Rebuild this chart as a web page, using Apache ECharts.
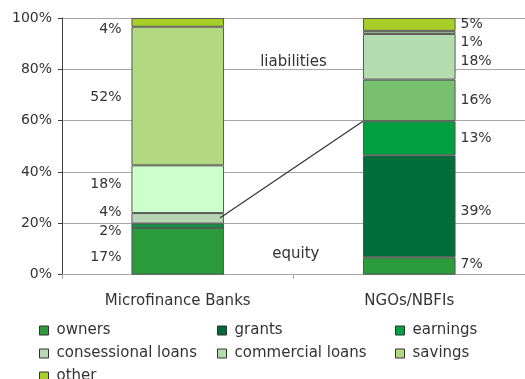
<!DOCTYPE html>
<html>
<head>
<meta charset="utf-8">
<script src="https://cdn.jsdelivr.net/npm/echarts@6/dist/echarts.min.js"></script>
<style>
html,body{margin:0;padding:0;background:#fff;}
#chart{width:525px;height:379px;}
</style>
</head>
<body>
<div id="chart"></div>
<script>
// ---- data ----
const categories = ['Microfinance Banks', 'NGOs/NBFIs'];
const seriesNames = ['owners', 'grants', 'earnings', 'consessional loans', 'commercial loans', 'savings', 'other'];
// share of funding (%) as drawn, bottom to top, per category
const banksValues = [18.3, 0, 1.6, 4.1, 18.6, 54.0, 3.4];
const ngoValues   = [6.8, 39.7, 13.3, 16.2, 17.8, 1.2, 5.0];
// printed labels
const banksLabels = ['17%', '', '2%', '4%', '18%', '52%', '4%'];
const ngoLabels   = ['7%', '39%', '13%', '16%', '18%', '1%', '5%'];
const yTicks = [0, 20, 40, 60, 80, 100];
// equity / liabilities divider (x on 0..2 category scale, y in %)
const dividerLine = [[0.682, 22.1], [1.30, 59.8]];
const annotations = [
  { name: 'liabilities', x: 1.0, y: 83.0 },
  { name: 'equity', x: 1.01, y: 8.1 }
];

// ---- styles ----
const FONT = 'DejaVu Sans';
const legendColors = ['#2e9a3a', '#006b38', '#00a040', '#b9d8b6', '#b2dcac', '#b2d880', '#a7cf27'];
const banksColors  = ['#2a9a3a', '#006b38', '#00a040', '#b8d4b4', '#ccffcc', '#b2d880', '#a7cf27'];
const ngoColors    = ['#2a9a3a', '#006e38', '#00a040', '#78c070', '#b4dcb0', '#9cb898', '#a7cf27'];
const banksOffsets = [6, 0, 6, -6, -5, 1, 7];
const ngoOffsets   = [-2, 5, 0, 0, 5, 10, 0];

const chart = echarts.init(document.getElementById('chart'), null, { renderer: 'canvas' });

const barSeries = seriesNames.map((name, i) => ({
  name: name,
  type: 'bar',
  stack: 'total',
  xAxisIndex: 0,
  yAxisIndex: 0,
  barWidth: '40%',
  itemStyle: { color: legendColors[i], borderColor: '#555', borderWidth: 1 },
  emphasis: { disabled: true },
  data: [
    {
      value: banksValues[i],
      itemStyle: { color: banksColors[i] },
      label: {
        show: banksLabels[i] !== '',
        position: 'left',
        distance: 10,
        formatter: banksLabels[i],
        offset: [0, banksOffsets[i]]
      }
    },
    {
      value: ngoValues[i],
      itemStyle: { color: ngoColors[i] },
      label: {
        show: ngoLabels[i] !== '',
        position: 'right',
        distance: 5,
        formatter: ngoLabels[i],
        offset: [0, ngoOffsets[i]]
      }
    }
  ],
  label: { color: '#333', fontSize: 14, fontFamily: FONT }
}));

const lineSeries = {
  name: 'divider',
  type: 'line',
  xAxisIndex: 1,
  yAxisIndex: 0,
  data: dividerLine,
  symbol: 'none',
  lineStyle: { color: '#333', width: 1.2 },
  z: 5,
  silent: true
};

const textSeries = {
  name: 'notes',
  type: 'scatter',
  xAxisIndex: 1,
  yAxisIndex: 0,
  symbolSize: 0,
  itemStyle: { opacity: 1, color: '#fff' },
  data: annotations.map(a => ({ name: a.name, value: [a.x, a.y] })),
  label: {
    show: true,
    position: 'inside',
    formatter: '{b}',
    color: '#333',
    opacity: 1,
    fontSize: 15,
    fontFamily: FONT
  },
  z: 6,
  silent: true
};

function legendCol(names, left) {
  return {
    data: names,
    orient: 'vertical',
    left: left,
    top: 322,
    height: 120,
    itemWidth: 9,
    itemHeight: 9,
    itemGap: 6,
    icon: 'rect',
    itemStyle: { borderColor: '#333', borderWidth: 1 },
    selectedMode: false,
    padding: 0,
    textStyle: { fontSize: 15, fontFamily: FONT, color: '#333', lineHeight: 17, padding: [0, 0, 0, 3] }
  };
}

chart.setOption({
  animation: false,
  backgroundColor: '#fff',
  grid: { left: 62, top: 18, width: 466, bottom: 104.3, containLabel: false },
  xAxis: [
    {
      type: 'category',
      data: categories,
      axisLine: { lineStyle: { color: '#a6a6a6', width: 1 } },
      axisTick: { show: true, length: 4, lineStyle: { color: '#a6a6a6' } },
      axisLabel: { margin: 19, color: '#333', fontSize: 15, fontFamily: FONT }
    },
    {
      type: 'value',
      min: 0,
      max: 2,
      show: false,
      position: 'top'
    }
  ],
  yAxis: {
    type: 'value',
    min: yTicks[0],
    max: yTicks[yTicks.length - 1],
    interval: 20,
    axisLine: { show: true, lineStyle: { color: '#404040', width: 1 } },
    axisTick: { show: true, length: 4, lineStyle: { color: '#404040' } },
    axisLabel: { formatter: '{value}%', margin: 10, color: '#333', fontSize: 14, fontFamily: FONT },
    splitLine: { lineStyle: { color: '#a6a6a6', width: 1 } }
  },
  legend: [
    legendCol(['owners', 'consessional loans', 'other'], 39),
    legendCol(['grants', 'commercial loans'], 217),
    legendCol(['earnings', 'savings'], 395)
  ],
  series: barSeries.concat([lineSeries, textSeries])
});
</script>
</body>
</html>
